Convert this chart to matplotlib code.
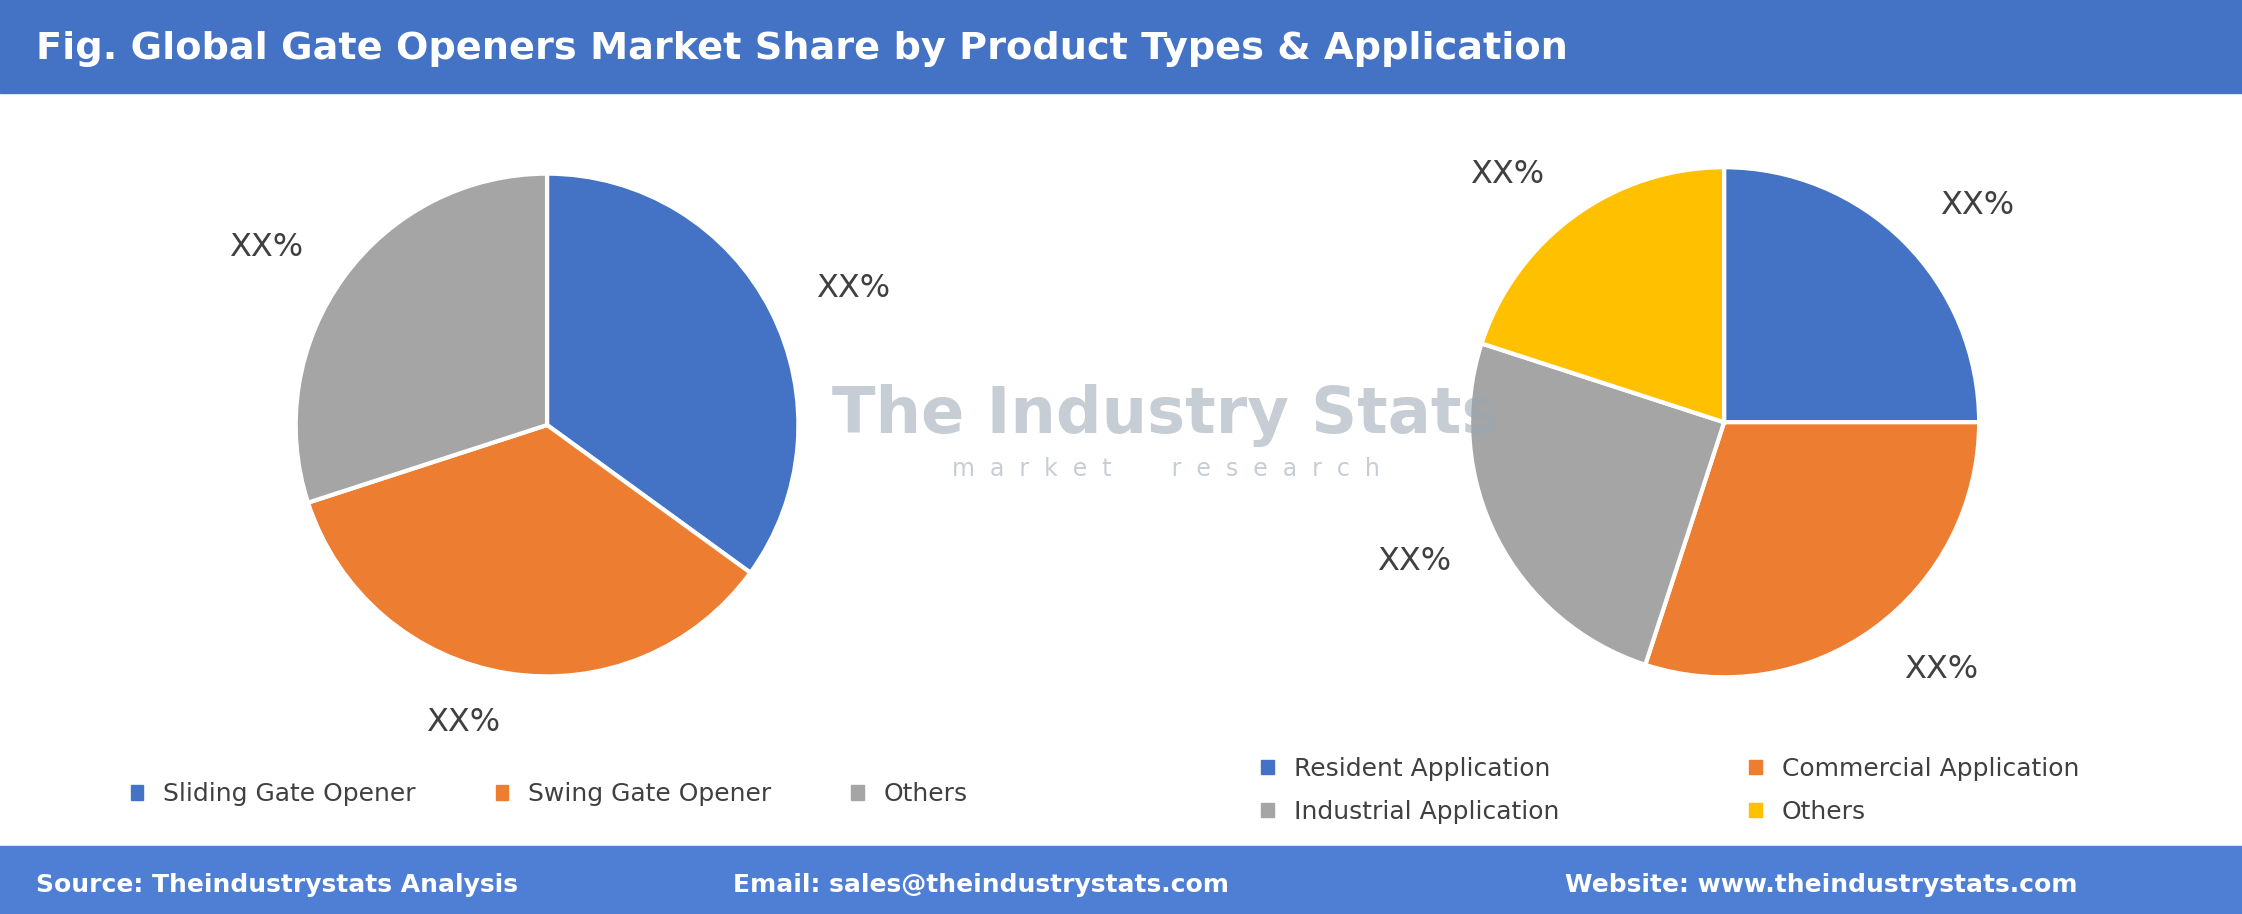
import matplotlib.pyplot as plt
from matplotlib.patches import Rectangle, Patch

product_types = ["Sliding Gate Opener", "Swing Gate Opener", "Others"]
product_share = [35, 35, 30]
product_colors = ["#4472C4", "#ED7D31", "#A5A5A5"]

applications = ["Resident Application", "Commercial Application", "Industrial Application", "Others"]
application_share = [25, 30, 25, 20]
application_colors = ["#4472C4", "#ED7D31", "#A5A5A5", "#FFC000"]

label_text = "XX%"

fig = plt.figure(figsize=(22.42, 9.14), dpi=100)
fig.patch.set_facecolor("white")

# header and footer bars
fig.patches.append(Rectangle((0, 0.898), 1, 0.102, transform=fig.transFigure, color="#4472C4", zorder=0))
fig.patches.append(Rectangle((0, 0), 1, 0.074, transform=fig.transFigure, color="#4F7FD4", zorder=0))
fig.text(0.016, 0.946, "Fig. Global Gate Openers Market Share by Product Types & Application",
         color="white", fontsize=27.5, fontweight="bold", va="center")
fig.text(0.016, 0.032, "Source: Theindustrystats Analysis", color="white", fontsize=18, fontweight="bold", va="center")
fig.text(0.327, 0.032, "Email: sales@theindustrystats.com", color="white", fontsize=18, fontweight="bold", va="center")
fig.text(0.698, 0.032, "Website: www.theindustrystats.com", color="white", fontsize=18, fontweight="bold", va="center")

# watermark
fig.text(0.52, 0.545, "The Industry Stats", color="#9AA5B1", alpha=0.55, fontsize=46, fontweight="bold",
         ha="center", va="center")
fig.text(0.52, 0.487, "m  a  r  k  e  t        r  e  s  e  a  r  c  h", color="#9AA5B1", alpha=0.55,
         fontsize=17, ha="center", va="center")

def draw_pie(cx, cy, r, values, colors, lbl_dist):
    h = 2 * r
    w = h * 914 / 2242
    ax = fig.add_axes([cx - w / 2, cy - h / 2, w, h])
    ax.pie(values, colors=colors, startangle=90, counterclock=False,
           labels=[label_text] * len(values), labeldistance=lbl_dist,
           wedgeprops=dict(edgecolor="white", linewidth=3),
           textprops=dict(fontsize=23, color="#404040"))
    ax.set_xlim(-1, 1)
    ax.set_ylim(-1, 1)
    ax.set_aspect("equal")
    return ax

draw_pie(0.244, 0.535, 0.275, product_share, product_colors, 1.2)
draw_pie(0.769, 0.538, 0.279, application_share, application_colors, 1.2)

left_handles = [Patch(color=c, label=l) for c, l in zip(product_colors, product_types)]
fig.legend(handles=left_handles, loc="center", bbox_to_anchor=(0.245, 0.131), ncol=3, frameon=False,
           fontsize=18, handlelength=0.5, handleheight=0.5, columnspacing=3.2, labelcolor="#404040")

# row-major order in the picture -> reorder for column-first fill
order = [0, 2, 1, 3]
right_handles = [Patch(color=application_colors[i], label=applications[i]) for i in order]
fig.legend(handles=right_handles, loc="center", bbox_to_anchor=(0.745, 0.135), ncol=2, frameon=False,
           fontsize=18, handlelength=0.5, handleheight=0.5, columnspacing=7.6, labelspacing=0.75,
           labelcolor="#404040")

fig.savefig("out.png", dpi=100)
